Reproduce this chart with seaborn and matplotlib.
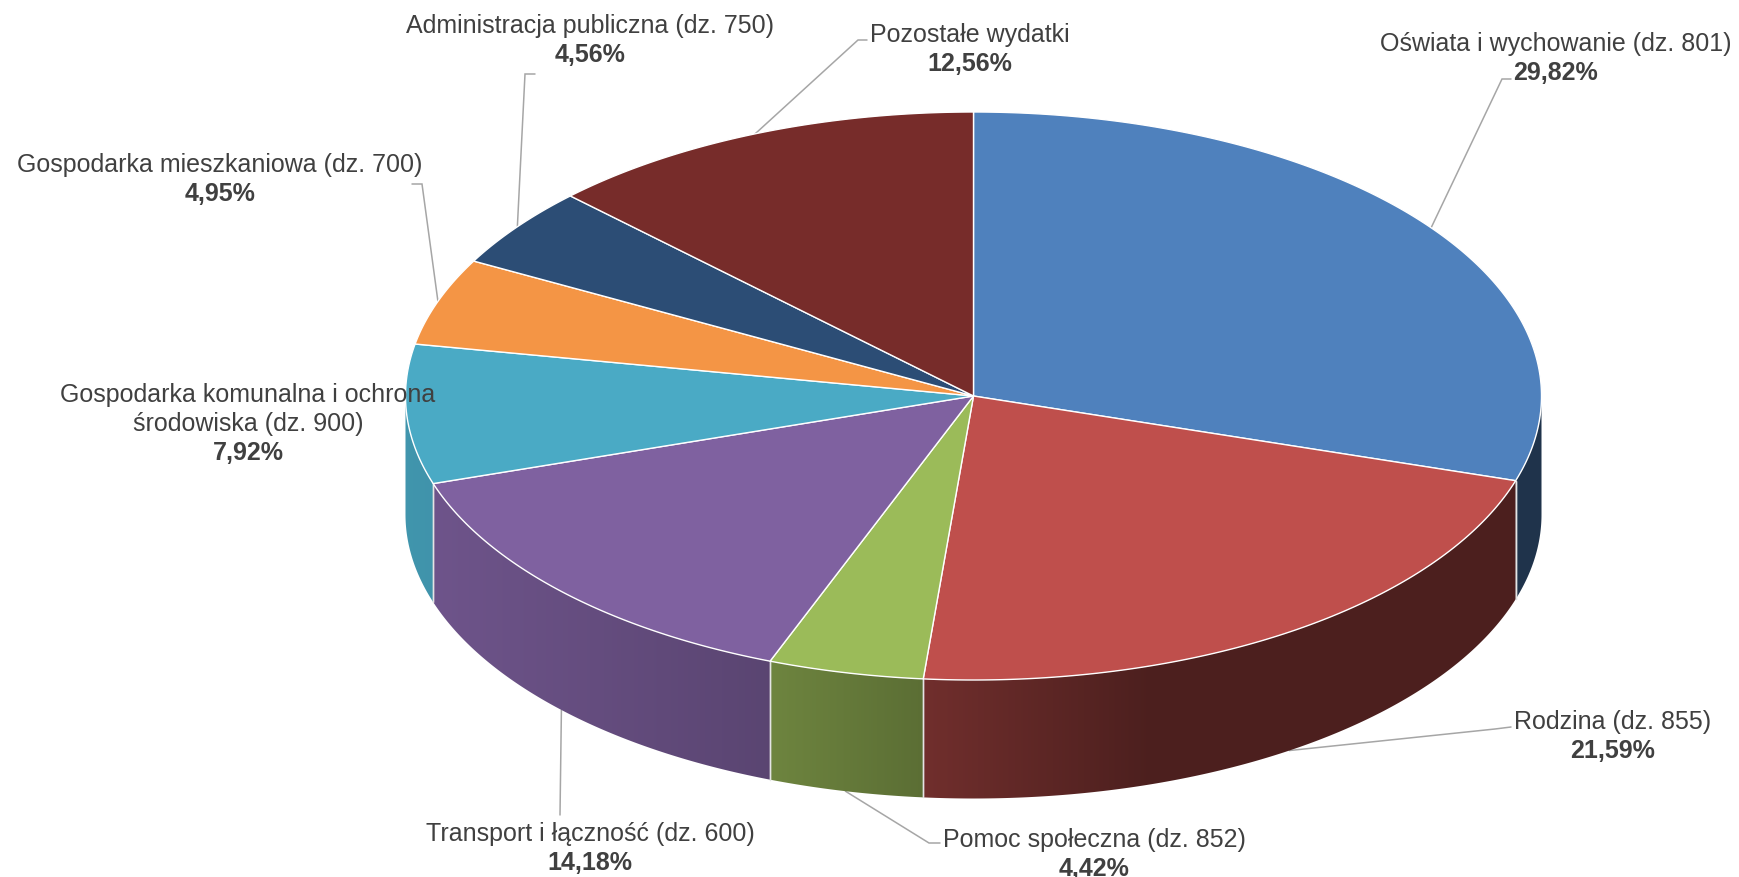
import numpy as np
import matplotlib
matplotlib.use("Agg")
import matplotlib.pyplot as plt
from matplotlib.patches import Polygon
import seaborn as sns

# ---- data ----
categories = [
    "Oświata i wychowanie (dz. 801)",
    "Rodzina (dz. 855)",
    "Pomoc społeczna (dz. 852)",
    "Transport i łączność (dz. 600)",
    "Gospodarka komunalna i ochrona\nśrodowiska (dz. 900)",
    "Gospodarka mieszkaniowa (dz. 700)",
    "Administracja publiczna (dz. 750)",
    "Pozostałe wydatki",
]
shares = [29.82, 21.59, 4.42, 14.18, 7.92, 4.95, 4.56, 12.56]
share_labels = ["29,82%", "21,59%", "4,42%", "14,18%", "7,92%", "4,95%", "4,56%", "12,56%"]
slice_colors = ["#4F81BD", "#BF4F4C", "#9BBB59", "#7F61A0",
                "#4AAAC5", "#F49545", "#2C4D75", "#772C2A"]

# ---- layout (pixels of the 1739x878 canvas) ----
CX, CY, RX, RY, DEPTH = 973.5, 397.0, 568.0, 284.0, 118.5
LABEL_XY = [(1556, 44), (1613, 722), (1094, 840), (590, 834),
            (248, 395), (220, 165), (590, 26), (970, 35)]
LINE_HEIGHT = 28.8
ELBOWS = [
    [(1502, 80), (1511, 80)],
    [(1495, 730), (1511, 728)],
    [(929, 844), (940, 844)],
    [(560, 816)],
    [],
    [(422, 185), (412, 185)],
    [(525, 75), (535, 75)],
    [(858, 41), (867, 41)],
]
TEXT = "#404040"
LEADER = "#A6A6A6"
SHADE_X = [405, 770, 923, 1150]
SHADE_F = [0.88, 0.71, 0.59, 0.40]

sns.set_theme(style="white", rc={"figure.facecolor": "white", "axes.facecolor": "white"})
plt.rcParams["font.family"] = ["Liberation Sans", "DejaVu Sans"]
palette = sns.color_palette(slice_colors)

fig, ax = plt.subplots(figsize=(17.39, 8.78), dpi=100)
fig.subplots_adjust(0, 0, 1, 1)
ax.axis("off")

edges = np.concatenate([[0], np.cumsum(shares)]) / np.sum(shares) * 360.0


def rim(deg, drop=0.0):
    t = np.radians(deg)
    return CX + RX * np.sin(t), CY - RY * np.cos(t) + drop


# side wall: front half of the cylinder, shaded along x
for (a0, a1), col in zip(zip(edges[:-1], edges[1:]), palette):
    lo, hi = max(a0, 90.0), min(a1, 270.0)
    if lo >= hi:
        continue
    ts = np.linspace(lo, hi, int((hi - lo) * 4) + 2)
    xs, ys = rim(ts)
    outline = np.c_[np.r_[xs, xs[::-1]], np.r_[ys, ys[::-1] + DEPTH]]
    panel = Polygon(outline, closed=True, facecolor="none", edgecolor="none")
    ax.add_patch(panel)
    x_lo, x_hi = np.floor(xs.min()) - 1, np.ceil(xs.max()) + 1
    columns = np.arange(x_lo, x_hi + 1)
    factor = np.interp(columns, SHADE_X, SHADE_F)
    strip = np.outer(factor, np.array(col))[np.newaxis, :, :]
    im = ax.imshow(strip, extent=[x_lo, x_hi, ys.max() + DEPTH + 1, ys.min() - 1],
                   aspect="auto", interpolation="bilinear", zorder=2)
    im.set_clip_path(panel)
    # white seams between the side panels
    for a in (lo, hi):
        if 90.0 < a < 270.0:
            x, y = rim(a)
            ax.plot([x, x], [y, y + DEPTH], color="#E4E4E4", lw=1.0, zorder=3)

# top faces
for (a0, a1), col in zip(zip(edges[:-1], edges[1:]), palette):
    ts = np.linspace(a0, a1, int((a1 - a0) * 4) + 2)
    xs, ys = rim(ts)
    ax.fill(np.r_[CX, xs, CX], np.r_[CY, ys, CY], facecolor=col,
            edgecolor="white", linewidth=1.0, joinstyle="round", zorder=4)

# leader lines and labels
mids = (edges[:-1] + edges[1:]) / 2
for i, (name, pct, (lx, ly)) in enumerate(zip(categories, share_labels, LABEL_XY)):
    x0, y0 = rim(mids[i], DEPTH if 90 < mids[i] < 270 else 0.0)
    if ELBOWS[i]:
        px = [x0] + [p[0] for p in ELBOWS[i]]
        py = [y0] + [p[1] for p in ELBOWS[i]]
        ax.plot(px, py, color=LEADER, lw=1.1, zorder=1, solid_joinstyle="miter")
    n = name.count("\n") + 1
    for j, line in enumerate(name.split("\n")):
        ax.text(lx, ly + j * LINE_HEIGHT, line, ha="center", va="center",
                fontsize=18.0, color=TEXT, zorder=6)
    ax.text(lx, ly + n * LINE_HEIGHT, pct, ha="center", va="center",
            fontsize=18.0, fontweight="bold", color=TEXT, zorder=6)

ax.set_xlim(0, 1739)
ax.set_ylim(878, 0)
fig.savefig("out.png", dpi=100, facecolor="white")
